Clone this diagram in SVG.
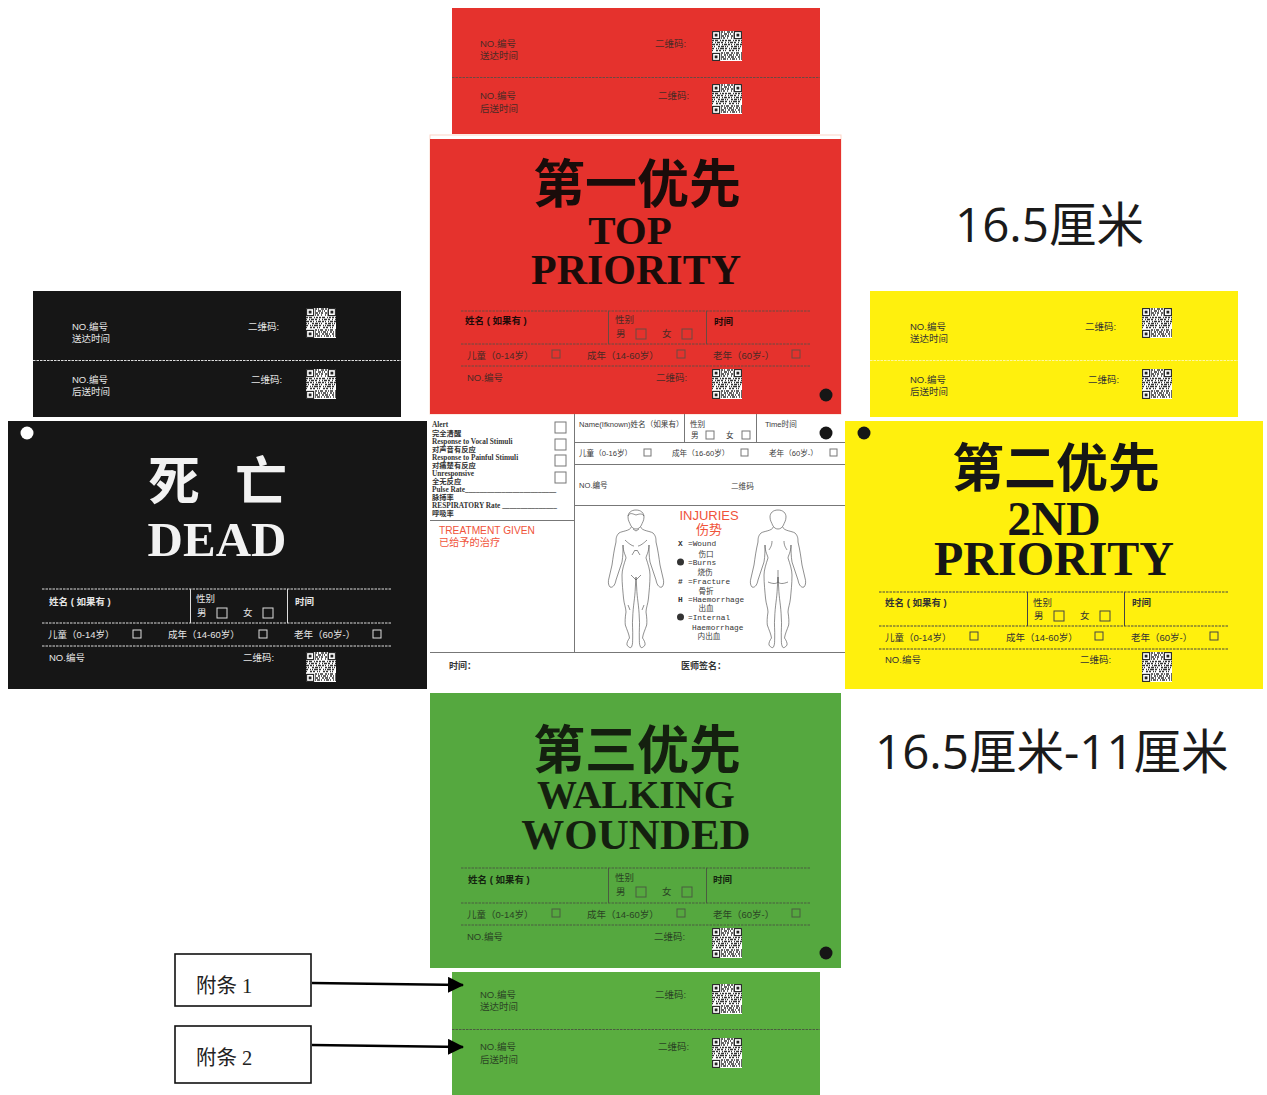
<svg xmlns="http://www.w3.org/2000/svg" width="1267" height="1095" viewBox="0 0 1267 1095">
<style>
text{font-family:"Liberation Sans","Noto Sans CJK SC",sans-serif;font-size:9.5px}
.t{font-family:"Noto Sans CJK SC",sans-serif;font-size:52px;font-weight:700;text-anchor:middle}
.e{font-family:"Liberation Serif","Noto Sans CJK SC",serif;font-weight:700;text-anchor:middle}
.b{font-weight:700}
.dim{font-family:"Open Sans","Noto Sans CJK SC",sans-serif;font-size:47.500px;fill:#1a1a1a}
.s{font-family:"Liberation Serif","Noto Sans CJK SC",serif;font-size:7.300px;font-weight:700;fill:#333}
.m{font-family:"Liberation Mono","Noto Sans CJK SC",monospace;font-size:7.800px;fill:#333}
.c{font-size:7.600px;fill:#3a3a3a}
.o{fill:#f0533a}
.dash{stroke-dasharray:2.500 1;stroke-width:1;fill:none}
.red{fill:#e5322d}.blk{fill:#161616}.yel{fill:#fff00d}.grn{fill:#55a83f}
.rt text{fill:#4a2a25}.rt .b{fill:#1e0a08}
.kt text{fill:#e6e6e6}
.yt text{fill:#333}
.gt text{fill:#2a4424}.gt .b{fill:#14240f}
.rt .l{stroke:#6b4a42}.kt .l{stroke:#ddd}.yt .l{stroke:#444}.gt .l{stroke:#4a5c40}
.l{fill:none;stroke-width:1}
.grid{stroke:#777;stroke-width:1;fill:none}
.body{fill:none;stroke:#444;stroke-width:.6}
.tag{fill:#fff;stroke:#111;stroke-width:1.600}
.tagt{font-family:"Liberation Serif","Noto Sans CJK SC",serif;font-size:20.500px;fill:#222}
.conn{fill:none;stroke:#000;stroke-width:2.400;marker-end:url(#arrow)}
</style>
<defs>
<marker id="arrow" markerUnits="userSpaceOnUse" markerWidth="16" markerHeight="16" refX="15" refY="8" orient="auto"><path d="M0 0L16 8L0 16Z" fill="#000"/></marker>
<symbol id="qr" viewBox="0 0 30 30" width="30" height="30">
<rect width="30" height="30" fill="#fff"/>
<g stroke="#333" stroke-width="1.500" fill="none">
<path d="M9 1H21.500" stroke-dasharray="2 1 1 2 3 1"/><path d="M9 3H21.500" stroke-dasharray="1 2 3 1 1 1"/><path d="M9 5H21.500" stroke-dasharray="3 1 1 1 2 2"/><path d="M9 7H21.500" stroke-dasharray="1 1 2 2 1 3"/>
<path d="M0 9.500H30" stroke-dasharray="2 1 3 2 1 1 2 1"/><path d="M0 11.500H30" stroke-dasharray="1 2 1 1 3 1 2 2"/><path d="M0 13.500H30" stroke-dasharray="3 1 2 1 1 2 1 1"/><path d="M0 15.500H30" stroke-dasharray="1 1 1 3 2 1 3 1"/><path d="M0 17.500H30" stroke-dasharray="2 2 1 1 1 1 4 1"/><path d="M0 19.500H30" stroke-dasharray="1 3 2 1 2 2 1 1"/>
<path d="M9 22H30" stroke-dasharray="2 1 1 1 3 2"/><path d="M9 24H30" stroke-dasharray="1 2 2 1 1 1 3 1"/><path d="M9 26H30" stroke-dasharray="3 1 1 2 2 1"/><path d="M9 28H30" stroke-dasharray="1 1 3 1 1 2"/>
</g>
<g fill="none" stroke="#222" stroke-width="1.100"><rect x=".6" y=".6" width="7" height="7"/><rect x="22.400" y=".6" width="7" height="7"/><rect x=".6" y="22.400" width="7" height="7"/></g>
<g fill="#222"><rect x="2.700" y="2.700" width="2.800" height="2.800"/><rect x="24.500" y="2.700" width="2.800" height="2.800"/><rect x="2.700" y="24.500" width="2.800" height="2.800"/></g>
</symbol>
<path id="half" class="body" d="M30 0C35 0 38 3 38 7C38 11 36 13 35.500 15C34 18 32 19 30 19M34.700 17C36 21 44 21 47 23C50 26 50 29 50 32C52 40 53 48 54 55L57 68C58 71 58 75 56 77C54 78 51 76 50 70L44 52C43 46 43 40 43 35M43 35C43 42 40 46 40 48C42 54 44 60 44 65C44 74 43 82 42.500 88C42 94 40 98 40 102C41 108 41 112 40.700 115C39 120 37 124 36.500 128C38 130 39.500 133 39 135C37 138 35 138 34.500 137C33 134 33.500 131 33.300 128C33 120 34 114 33.300 108C33 96 31 88 30.700 78L30 67"/>
<g id="front"><use href="#half"/><use href="#half" transform="translate(60 0) scale(-1 1)"/><path class="body" d="M22 6C24 2 27 4 30 5C33 4 36 3 38 6M27 19L30 21L33 19M19 30C22 33 26 36 28 36M41 30C38 33 34 36 32 36M26 45L29 40L30 41L31 40L34 45M25 65L30 70L35 65M22 95L24 100M38 95L36 100"/></g>
<g id="back"><use href="#half"/><use href="#half" transform="translate(60 0) scale(-1 1)"/><path class="body" d="M24 31C24 36 22 38 21 40M36 31C36 36 38 38 39 40M30 60V72M20 72C25 74 28 74 30 72C32 74 35 74 40 72"/></g>
</defs>

<rect width="1267" height="1095" fill="#fff"/>

<g id="red-strip" class="rt">
<rect class="red" x="452" y="8" width="368" height="126"/>
<path class="l dash" d="M452 77.500H820"/>
<text x="480" y="47">NO.编号</text><text x="480" y="59">送达时间</text><text x="655" y="47">二维码:</text><use href="#qr" x="712" y="31"/>
<text x="480" y="99">NO.编号</text><text x="480" y="112">后送时间</text><text x="658" y="99">二维码:</text><use href="#qr" x="712" y="84"/>
</g>

<g id="red-card" class="rt">
<rect x="430" y="135" width="411" height="279" fill="none" stroke="#fcd5c8"/>
<rect class="red" x="430" y="139" width="411" height="275"/>
<text class="t" x="637" y="203" style="fill:#1a0c0a">第一优先</text>
<text class="e" x="630" y="244" style="font-size:41px;fill:#1a0c0a">TOP</text>
<text class="e" x="636" y="284" style="font-size:42px;fill:#1a0c0a">PRIORITY</text>
<path class="l dash" d="M461 311H811M461 344H811M461 366H811"/>
<path class="l" d="M608.500 311V344M706.500 311V344"/>
<text class="b" x="465" y="324">姓名 ( 如果有 )</text><text x="615" y="323">性别</text><text x="616" y="337">男</text><rect class="l" x="636" y="329" width="10" height="10"/><text x="662" y="337">女</text><rect class="l" x="682" y="329" width="10" height="10"/><text class="b" x="714" y="325">时间</text>
<text x="467" y="359">儿童（0-14岁）</text><rect class="l" x="552" y="350" width="8" height="8"/><text x="587" y="359">成年（14-60岁）</text><rect class="l" x="677" y="350" width="8" height="8"/><text x="713" y="359">老年（60岁-）</text><rect class="l" x="792" y="350" width="8" height="8"/>
<text x="467" y="381">NO.编号</text><text x="656" y="381">二维码:</text><use href="#qr" x="712" y="369"/>
<circle cx="826" cy="395" r="6.500" fill="#161616"/>
</g>

<g id="black-strip" class="kt">
<rect class="blk" x="33" y="291" width="368" height="126"/>
<path class="l dash" d="M33 360.500H401"/>
<text x="72" y="330">NO.编号</text><text x="72" y="342">送达时间</text><text x="248" y="330">二维码:</text><use href="#qr" x="306" y="308"/>
<text x="72" y="383">NO.编号</text><text x="72" y="395">后送时间</text><text x="251" y="383">二维码:</text><use href="#qr" x="306" y="369"/>
</g>

<g id="black-card" class="kt">
<rect class="blk" x="8" y="421" width="419" height="268"/>
<text class="t" x="148 200 235" y="500" style="fill:#f2f2f2;text-anchor:start">死 亡</text>
<text class="e" x="217" y="556" style="font-size:49px;fill:#f2f2f2">DEAD</text>
<path class="l dash" d="M42 589H392M42 623H392M42 646H392"/>
<path class="l" d="M190.500 589V623M287.500 589V623"/>
<text class="b" x="49" y="605">姓名 ( 如果有 )</text><text x="196" y="602">性别</text><text x="197" y="616">男</text><rect class="l" x="217" y="608" width="10" height="10"/><text x="243" y="616">女</text><rect class="l" x="263" y="608" width="10" height="10"/><text class="b" x="295" y="605">时间</text>
<text x="48" y="638">儿童（0-14岁）</text><rect class="l" x="133" y="630" width="8" height="8"/><text x="168" y="638">成年（14-60岁）</text><rect class="l" x="259" y="630" width="8" height="8"/><text x="294" y="638">老年（60岁-）</text><rect class="l" x="373" y="630" width="8" height="8"/>
<text x="49" y="661">NO.编号</text><text x="243" y="661">二维码:</text><use href="#qr" x="306" y="652"/>
<circle cx="27" cy="433" r="6.500" fill="#fff"/>
</g>

<g id="yellow-strip" class="yt">
<rect class="yel" x="870" y="291" width="368" height="126"/>
<path class="l dash" d="M870 360.500H1238" style="stroke:#fff7a0"/>
<text x="910" y="330">NO.编号</text><text x="910" y="342">送达时间</text><text x="1085" y="330">二维码:</text><use href="#qr" x="1142" y="308"/>
<text x="910" y="383">NO.编号</text><text x="910" y="395">后送时间</text><text x="1088" y="383">二维码:</text><use href="#qr" x="1142" y="369"/>
</g>

<g id="yellow-card" class="yt">
<rect class="yel" x="845" y="421" width="418" height="268"/>
<text class="t" x="1056" y="487" style="fill:#161616">第二优先</text>
<text class="e" x="1054" y="535" style="font-size:48px;fill:#161616">2ND</text>
<text class="e" x="1054" y="575" style="font-size:48px;fill:#161616">PRIORITY</text>
<path class="l dash" d="M879 592H1229M879 626H1229M879 649H1229"/>
<path class="l" d="M1027.500 592V626M1124.500 592V626"/>
<text class="b" x="885" y="606">姓名 ( 如果有 )</text><text x="1033" y="606">性别</text><text x="1034" y="619">男</text><rect class="l" x="1054" y="611" width="10" height="10"/><text x="1080" y="619">女</text><rect class="l" x="1100" y="611" width="10" height="10"/><text class="b" x="1132" y="606">时间</text>
<text x="885" y="641">儿童（0-14岁）</text><rect class="l" x="970" y="632" width="8" height="8"/><text x="1006" y="641">成年（14-60岁）</text><rect class="l" x="1095" y="632" width="8" height="8"/><text x="1131" y="641">老年（60岁-）</text><rect class="l" x="1210" y="632" width="8" height="8"/>
<text x="885" y="663">NO.编号</text><text x="1080" y="663">二维码:</text><use href="#qr" x="1142" y="652"/>
<circle cx="864" cy="433" r="6.500" fill="#161616"/>
</g>

<g id="middle-card">
<path class="grid" d="M574.500 414V652M684.500 414V442M756.500 414V442M574 442.500H845M574 464.500H845M574 505.500H845M430 520.500H574M430 652.500H845"/>
<text class="s" x="432" y="427">Alert</text><text class="s" x="432" y="436">完全清醒</text>
<text class="s" x="432" y="444">Response to Vocal Stimuli</text><text class="s" x="432" y="452">对声音有反应</text>
<text class="s" x="432" y="460">Response to Painful Stimuli</text><text class="s" x="432" y="468">对痛楚有反应</text>
<text class="s" x="432" y="476">Unresponsive</text><text class="s" x="432" y="484">全无反应</text>
<text class="s" x="432" y="492">Pulse Rate_________________________</text><text class="s" x="432" y="500">脉搏率</text>
<text class="s" x="432" y="508">RESPIRATORY Rate _______________</text><text class="s" x="432" y="516">呼吸率</text>
<g class="grid"><rect x="555" y="422" width="11" height="11"/><rect x="555" y="439" width="11" height="11"/><rect x="555" y="455" width="11" height="11"/><rect x="555" y="472" width="11" height="11"/></g>
<text class="c" x="579" y="427">Name(Ifknown)姓名（如果有）</text><text class="c" x="690" y="427">性别</text><text class="c" x="691" y="438">男</text><rect class="grid" x="706" y="431" width="8" height="8"/><text class="c" x="726" y="438">女</text><rect class="grid" x="742" y="431" width="8" height="8"/><text class="c" x="765" y="427">Time时间</text>
<circle cx="826" cy="433" r="6.500" fill="#161616"/>
<text class="c" x="579" y="456">儿童（0-16岁）</text><rect class="grid" x="644" y="449" width="7" height="7"/><text class="c" x="672" y="456">成年（16-60岁）</text><rect class="grid" x="741" y="449" width="7" height="7"/><text class="c" x="769" y="456">老年（60岁-）</text><rect class="grid" x="830" y="449" width="7" height="7"/>
<text class="c" x="579" y="488">NO.编号</text><text class="c" x="731" y="489">二维码</text>
<text class="o" x="439" y="534" style="font-size:10.200px">TREATMENT GIVEN</text><text class="o" x="439" y="546" style="font-size:10.200px">已给予的治疗</text>
<text class="o" x="709" y="520" text-anchor="middle" style="font-size:13px">INJURIES</text><text class="o" x="709" y="534" text-anchor="middle" style="font-size:13px">伤势</text>
<use href="#front" x="606" y="510"/><use href="#back" x="748" y="510"/>
<text class="m" x="678" y="546" font-weight="700">X</text><text class="m" x="688" y="546">=Wound</text><text class="c" x="706" y="557" text-anchor="middle">伤口</text>
<circle cx="680.500" cy="562" r="3.500" fill="#333"/><text class="m" x="688" y="565">=Burns</text><text class="c" x="705" y="575" text-anchor="middle">烧伤</text>
<text class="m" x="678" y="584" font-weight="700">#</text><text class="m" x="688" y="584">=Fracture</text><text class="c" x="706" y="594" text-anchor="middle">骨折</text>
<text class="m" x="678" y="602" font-weight="700">H</text><text class="m" x="688" y="602">=Haemorrhage</text><text class="c" x="706" y="611" text-anchor="middle">出血</text>
<circle cx="680.500" cy="617" r="3.500" fill="#333"/><text class="m" x="688" y="620">=Internal</text><text class="m" x="692" y="630">Haemorrhage</text><text class="c" x="709" y="639" text-anchor="middle">内出血</text>
<text class="s" x="449" y="669" style="font-size:9px">时间：</text><text class="s" x="681" y="669" style="font-size:9px">医师签名：</text>
</g>

<g id="green-card" class="gt">
<rect class="grn" x="430" y="693" width="411" height="275"/>
<text class="t" x="637" y="769" style="fill:#14200f">第三优先</text>
<text class="e" x="636" y="808" style="font-size:40px;fill:#14200f">WALKING</text>
<text class="e" x="636" y="849" style="font-size:43px;fill:#14200f">WOUNDED</text>
<path class="l dash" d="M461 868H811M461 903H811M461 925H811"/>
<path class="l" d="M608.500 868V903M706.500 868V903"/>
<text class="b" x="468" y="883">姓名 ( 如果有 )</text><text x="615" y="881">性别</text><text x="616" y="895">男</text><rect class="l" x="636" y="887" width="10" height="10"/><text x="662" y="895">女</text><rect class="l" x="682" y="887" width="10" height="10"/><text class="b" x="713" y="883">时间</text>
<text x="467" y="918">儿童（0-14岁）</text><rect class="l" x="552" y="909" width="8" height="8"/><text x="587" y="918">成年（14-60岁）</text><rect class="l" x="677" y="909" width="8" height="8"/><text x="713" y="918">老年（60岁-）</text><rect class="l" x="792" y="909" width="8" height="8"/>
<text x="467" y="940">NO.编号</text><text x="654" y="940">二维码:</text><use href="#qr" x="712" y="928"/>
<circle cx="826" cy="953" r="6.500" fill="#161616"/>
</g>

<g id="green-strip" class="gt">
<rect x="452" y="972" width="368" height="123" fill="#5aad40"/>
<path class="l dash" d="M452 1029.500H820"/>
<text x="480" y="998">NO.编号</text><text x="480" y="1010">送达时间</text><text x="655" y="998">二维码:</text><use href="#qr" x="712" y="984"/>
<text x="480" y="1050">NO.编号</text><text x="480" y="1063">后送时间</text><text x="658" y="1050">二维码:</text><use href="#qr" x="712" y="1038"/>
</g>

<g id="dim-1"><text class="dim" x="955" y="242">16.5厘米</text></g>
<g id="dim-2"><text class="dim" x="875" y="769">16.5厘米-11厘米</text></g>

<g id="tag-1"><rect class="tag" x="175" y="954" width="136" height="52"/><text class="tagt" x="196" y="993">附条 1</text></g>
<g id="tag-2"><rect class="tag" x="175" y="1026" width="136" height="57"/><text class="tagt" x="196" y="1065">附条 2</text></g>

<g id="connectors">
<path class="conn" d="M312 983L463 985"/>
<path class="conn" d="M312 1045L463 1047"/>
</g>
</svg>
